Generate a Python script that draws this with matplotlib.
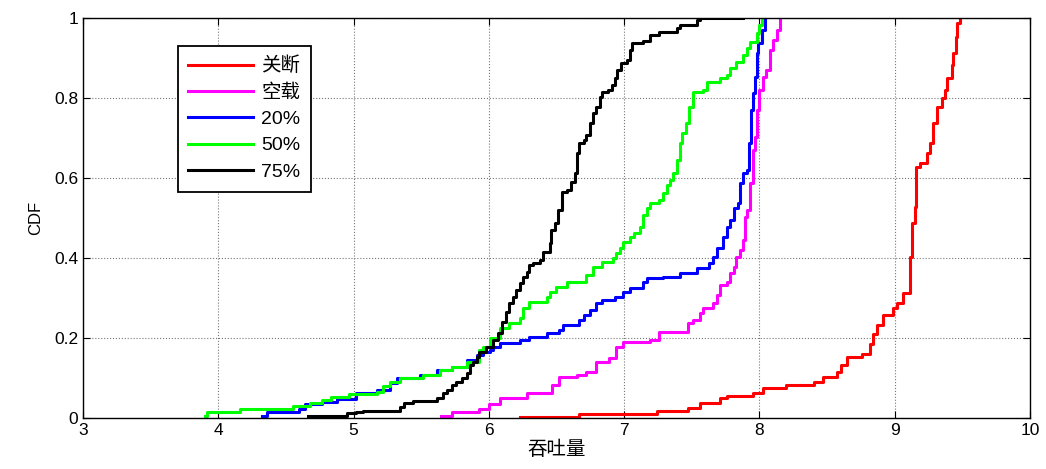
import matplotlib
matplotlib.use('Agg')
import matplotlib.pyplot as plt

plt.rcParams['font.family'] = ['Liberation Sans', 'Noto Sans CJK SC', 'DejaVu Sans']

# step breakpoints: throughput value, CDF level after the step
off_x = [6.23, 6.67, 7.24, 7.47, 7.56, 7.71, 7.76, 7.95, 8.03, 8.20, 8.40, 8.47, 8.57, 8.60,
         8.65, 8.76, 8.82, 8.84, 8.87, 8.91, 8.99, 9.02, 9.06, 9.11, 9.13, 9.15, 9.16, 9.19,
         9.24, 9.26, 9.28, 9.31, 9.35, 9.37, 9.39, 9.42, 9.43, 9.45, 9.46, 9.48]
off_y = [0.003, 0.010, 0.018, 0.025, 0.038, 0.050, 0.055, 0.062, 0.075, 0.082, 0.091, 0.103,
         0.116, 0.132, 0.153, 0.160, 0.186, 0.210, 0.233, 0.258, 0.274, 0.287, 0.312, 0.403,
         0.487, 0.528, 0.628, 0.637, 0.662, 0.687, 0.737, 0.778, 0.800, 0.820, 0.850, 0.882,
         0.912, 0.953, 0.987, 1.0]

idle_x = [5.65, 5.73, 5.93, 6.00, 6.08, 6.28, 6.47, 6.52, 6.65, 6.72, 6.79, 6.89, 6.94, 6.99,
          7.19, 7.26, 7.47, 7.51, 7.56, 7.58, 7.66, 7.69, 7.71, 7.76, 7.78, 7.81, 7.83, 7.86,
          7.88, 7.89, 7.91, 7.93, 7.95, 7.97, 7.98, 8.00, 8.03, 8.05, 8.08, 8.10, 8.13, 8.15]
idle_y = [0.006, 0.015, 0.022, 0.035, 0.050, 0.062, 0.082, 0.103, 0.107, 0.115, 0.140, 0.150,
          0.178, 0.190, 0.195, 0.215, 0.237, 0.245, 0.262, 0.275, 0.287, 0.308, 0.333, 0.340,
          0.362, 0.378, 0.402, 0.420, 0.445, 0.503, 0.520, 0.587, 0.670, 0.703, 0.770, 0.820,
          0.853, 0.870, 0.920, 0.945, 0.970, 1.0]

p20_x = [4.32, 4.36, 4.60, 4.64, 4.77, 4.88, 5.02, 5.17, 5.27, 5.32, 5.49, 5.62, 5.73, 5.84,
         5.91, 5.96, 6.01, 6.03, 6.08, 6.23, 6.30, 6.43, 6.52, 6.55, 6.67, 6.70, 6.75, 6.79,
         6.84, 6.93, 6.99, 7.04, 7.14, 7.17, 7.29, 7.41, 7.54, 7.63, 7.66, 7.69, 7.73, 7.76,
         7.78, 7.81, 7.84, 7.86, 7.88, 7.91, 7.92, 7.94, 7.95, 7.97, 7.98, 7.99, 8.02, 8.04]
p20_y = [0.006, 0.015, 0.023, 0.035, 0.040, 0.047, 0.062, 0.070, 0.087, 0.100, 0.107, 0.120,
         0.128, 0.145, 0.157, 0.165, 0.170, 0.178, 0.187, 0.195, 0.203, 0.212, 0.220, 0.232,
         0.245, 0.258, 0.270, 0.287, 0.295, 0.303, 0.315, 0.325, 0.340, 0.350, 0.353, 0.362,
         0.375, 0.387, 0.403, 0.425, 0.453, 0.478, 0.495, 0.525, 0.537, 0.587, 0.612, 0.620,
         0.687, 0.770, 0.812, 0.853, 0.912, 0.937, 0.970, 1.0]

p50_x = [3.90, 3.92, 4.16, 4.55, 4.68, 4.77, 4.83, 4.97, 5.17, 5.22, 5.27, 5.34, 5.51, 5.64,
         5.73, 5.84, 5.93, 5.96, 6.01, 6.08, 6.15, 6.23, 6.25, 6.30, 6.43, 6.45, 6.50, 6.58,
         6.72, 6.77, 6.84, 6.92, 6.94, 6.97, 6.99, 7.04, 7.07, 7.12, 7.14, 7.17, 7.19, 7.26,
         7.29, 7.32, 7.34, 7.36, 7.39, 7.41, 7.43, 7.46, 7.48, 7.51, 7.58, 7.61, 7.71, 7.76,
         7.78, 7.83, 7.88, 7.91, 7.93, 7.98, 8.00, 8.02]
p50_y = [0.006, 0.016, 0.022, 0.030, 0.037, 0.045, 0.052, 0.060, 0.065, 0.080, 0.090, 0.100,
         0.107, 0.120, 0.128, 0.140, 0.170, 0.178, 0.200, 0.225, 0.237, 0.250, 0.275, 0.290,
         0.303, 0.315, 0.328, 0.340, 0.357, 0.378, 0.390, 0.400, 0.412, 0.425, 0.440, 0.453,
         0.462, 0.478, 0.508, 0.525, 0.537, 0.545, 0.562, 0.583, 0.595, 0.612, 0.645, 0.687,
         0.712, 0.737, 0.778, 0.816, 0.820, 0.840, 0.850, 0.857, 0.875, 0.890, 0.907, 0.925,
         0.940, 0.962, 0.982, 1.0]

p75_x = [4.66, 4.95, 5.02, 5.07, 5.34, 5.37, 5.44, 5.62, 5.66, 5.69, 5.73, 5.76, 5.80, 5.84,
         5.86, 5.88, 5.91, 5.93, 5.98, 6.03, 6.07, 6.10, 6.13, 6.15, 6.18, 6.20, 6.23, 6.25,
         6.28, 6.30, 6.33, 6.38, 6.40, 6.45, 6.46, 6.49, 6.51, 6.54, 6.58, 6.61, 6.64, 6.65,
         6.67, 6.70, 6.72, 6.75, 6.77, 6.79, 6.82, 6.84, 6.88, 6.91, 6.93, 6.95, 6.98, 7.02,
         7.04, 7.06, 7.14, 7.19, 7.26, 7.39, 7.41, 7.54, 7.56, 7.88]
p75_y = [0.006, 0.012, 0.016, 0.017, 0.027, 0.038, 0.042, 0.050, 0.062, 0.070, 0.082, 0.090,
         0.100, 0.112, 0.133, 0.140, 0.153, 0.165, 0.178, 0.195, 0.212, 0.240, 0.265, 0.287,
         0.303, 0.320, 0.337, 0.353, 0.365, 0.382, 0.387, 0.395, 0.415, 0.437, 0.470, 0.487,
         0.520, 0.565, 0.570, 0.590, 0.612, 0.662, 0.687, 0.695, 0.707, 0.737, 0.762, 0.778,
         0.803, 0.816, 0.820, 0.832, 0.850, 0.870, 0.887, 0.895, 0.920, 0.937, 0.942, 0.957,
         0.965, 0.975, 0.982, 0.995, 1.0, 1.0]

labels = ['关断', '空载', '20%', '50%', '75%']
colors = ['#ff0000', '#ff00ff', '#0000ff', '#00ff00', '#000000']

fig = plt.figure(figsize=(10.46, 4.69), dpi=100)
ax = fig.add_axes([0.0793, 0.1087, 0.9054, 0.8529])

series = [(off_x, off_y), (idle_x, idle_y), (p20_x, p20_y), (p50_x, p50_y), (p75_x, p75_y)]
for (xs, ys), lab, c in zip(series, labels, colors):
    ax.step(xs, ys, where='post', color=c, lw=2.2, label=lab)

ax.set_xlim(3, 10)
ax.set_ylim(0, 1)
ax.set_xticks(range(3, 11))
ax.set_yticks([0, 0.2, 0.4, 0.6, 0.8, 1])
ax.set_yticklabels(['0', '0.2', '0.4', '0.6', '0.8', '1'])
ax.grid(True, linestyle=':', color='#777777', lw=0.8)
ax.tick_params(direction='in', top=True, right=True, labelsize=12.5, length=5)
for s in ax.spines.values():
    s.set_linewidth(1.0)

ax.set_xlabel('吞吐量', fontsize=14, family=['Noto Sans CJK SC', 'DejaVu Sans'], labelpad=1)
ax.set_ylabel('CDF', fontsize=12, labelpad=8)

leg = ax.legend(loc='upper left', bbox_to_anchor=(0.1, 0.93), borderaxespad=0,
                fancybox=False, framealpha=1, edgecolor='black', handlelength=3.3,
                handletextpad=0.45, labelspacing=0.45, borderpad=0.55,
                prop={'family': ['Liberation Sans', 'Noto Sans CJK SC'], 'size': 14})
leg.get_frame().set_linewidth(1.3)

plt.savefig('out.png', dpi=100)
